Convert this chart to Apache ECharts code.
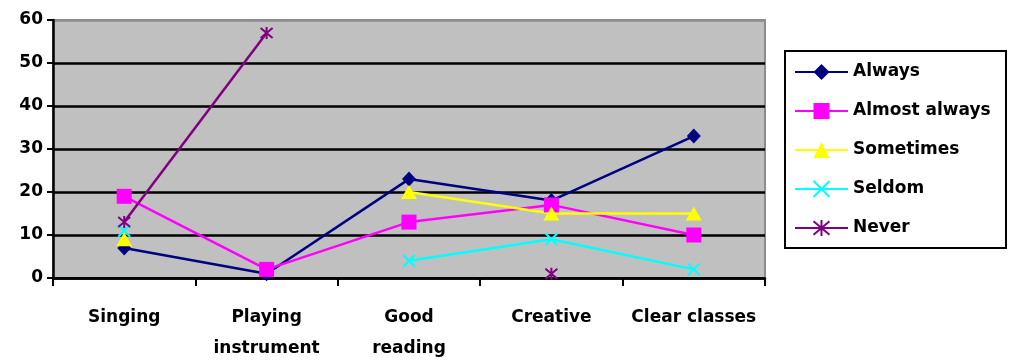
<!DOCTYPE html>
<html>
<head>
<meta charset="utf-8">
<script src="https://cdn.jsdelivr.net/npm/echarts@6/dist/echarts.min.js"></script>
<style>
  html, body { margin: 0; padding: 0; background: #ffffff; }
  #chart { width: 1010px; height: 362px; }
</style>
</head>
<body>
<div id="chart"></div>
<script>
// Activities and how often each is reported
const categories = ['Singing', 'Playing\ninstrument', 'Good\nreading', 'Creative', 'Clear classes'];
const yTicks = [0, 10, 20, 30, 40, 50, 60];

const always       = [7, 1, 23, 18, 33];
const almostAlways = [19, 2, 13, 17, 10];
const sometimes    = [9, null, 20, 15, 15];
const seldom       = [11, null, 4, 9, 2];
const never        = [13, 57, null, 1, null];

const FONT = '"DejaVu Sans", "Open Sans", sans-serif';

const crossPath = 'path://M0,0L10,10M10,0L0,10';
const starPath = 'path://M0,0L10,10M10,0L0,10M5,-1L5,11';

function lineSeries(name, data, color, symbol, size, stroked) {
  return {
    name: name,
    type: 'line',
    data: data,
    connectNulls: false,
    symbol: symbol,
    symbolSize: size,
    showAllSymbol: true,
    lineStyle: { color: color, width: 2.5 },
    itemStyle: stroked
      ? { color: color, borderColor: color, borderWidth: 2 }
      : { color: color, borderWidth: 0 },
    emphasis: { disabled: true },
    animation: false
  };
}

const chart = echarts.init(document.getElementById('chart'), null, { renderer: 'canvas' });

chart.setOption({
  backgroundColor: '#ffffff',
  animation: false,
  grid: {
    left: 53, right: 245, top: 20, bottom: 84,
    outerBoundsMode: 'none',
    containLabel: false,
    show: true,
    backgroundColor: '#c0c0c0',
    borderColor: '#8c8c8c',
    borderWidth: 2
  },
  legend: {
    orient: 'vertical',
    left: 794,
    top: 62,
    padding: 0,
    itemWidth: 53,
    itemHeight: 20,
    itemGap: 19,
    selectedMode: false,
    textStyle: { fontFamily: FONT, fontWeight: 'bold', fontSize: 17, color: '#000', lineHeight: 20 },
    data: ['Always', 'Almost always', 'Sometimes', 'Seldom', 'Never']
  },
  graphic: [{
    type: 'rect',
    shape: { x: 785, y: 51, width: 221, height: 197 },
    style: { fill: 'none', stroke: '#000', lineWidth: 2 },
    z: 10
  }],
  xAxis: {
    type: 'category',
    data: categories,
    boundaryGap: true,
    axisLine: { lineStyle: { color: '#000', width: 2.5 } },
    axisTick: { show: true, inside: false, length: 8, lineStyle: { color: '#000', width: 2 } },
    axisLabel: {
      interval: 0,
      margin: 24,
      fontFamily: FONT,
      fontWeight: 'bold',
      fontSize: 17,
      lineHeight: 31,
      color: '#000'
    },
    splitLine: { show: false }
  },
  yAxis: {
    type: 'value',
    min: yTicks[0],
    max: yTicks[yTicks.length - 1],
    interval: 10,
    axisLine: { show: true, lineStyle: { color: '#000', width: 2.5 } },
    axisTick: { show: true, inside: false, length: 6, lineStyle: { color: '#000', width: 2 } },
    axisLabel: {
      margin: 10,
      fontFamily: FONT,
      fontWeight: 'bold',
      fontSize: 17,
      color: '#000'
    },
    splitLine: {
      show: true,
      lineStyle: {
        color: ['#000', '#000', '#000', '#000', '#000', '#000', '#8c8c8c'],
        width: 2.5
      }
    }
  },
  series: [
    lineSeries('Always', always, '#000080', 'diamond', [14, 15], false),
    lineSeries('Almost always', almostAlways, '#ff00ff', 'rect', 15, false),
    lineSeries('Sometimes', sometimes, '#ffff00', 'triangle', [16, 14], false),
    lineSeries('Seldom', seldom, '#00ffff', crossPath, 12, true),
    lineSeries('Never', never, '#800080', starPath, 12, true)
  ]
});
</script>
</body>
</html>
